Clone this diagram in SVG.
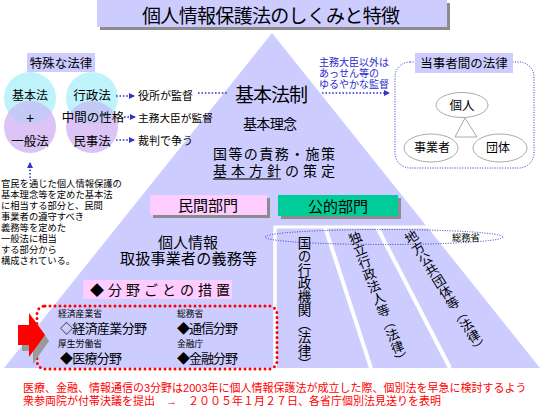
<svg xmlns="http://www.w3.org/2000/svg" width="544" height="406" viewBox="0 0 544 406">
<defs>
<style>
text{font-family:"Liberation Sans","Noto Sans CJK JP",sans-serif;fill:#000}
.c{text-anchor:middle}
.lav{fill:#ccccff}
.pink{fill:#ffccff}
.sh{fill:#8c8c8c}
.bd{fill:none;stroke:#3333cc;stroke-width:1.6;stroke-dasharray:1.6 1.8}
.bdt{fill:none;stroke:#3333cc;stroke-width:1;stroke-dasharray:1 1.5}
.red{fill:none;stroke:#ff0000;stroke-width:3;stroke-linecap:round;stroke-dasharray:0 5}
.wl{stroke:#fff;fill:none}
.bt{fill:#2a2acc}
.v{writing-mode:vertical-rl}
.rt{fill:#ff0000}
.el{fill:#fff;stroke:#aaa;stroke-width:1}
</style>
<marker id="ah" viewBox="0 0 6 6" refX="5" refY="3" markerWidth="6" markerHeight="6" orient="auto" markerUnits="userSpaceOnUse"><path d="M0,0 L6,3 L0,6 z" fill="#3333cc"/></marker>
<clipPath id="cl1"><circle cx="30" cy="98" r="26"/></clipPath>
<clipPath id="cl2"><circle cx="92" cy="98" r="26"/></clipPath>
</defs>

<g id="pyramid">
<polygon points="272,33 540,368 4,368" fill="#ccccff"/>
<path class="wl" stroke-width="3" d="M274,227 H428"/>
<path class="wl" stroke-width="3.5" d="M275,226 V368"/>
<path class="wl" stroke-width="4" d="M325,227 L371,368"/>
<path class="wl" stroke-width="4" d="M377,227 L450,368"/>
</g>

<g id="title">
<rect x="100" y="3" width="350" height="27" class="sh"/>
<rect x="97" y="0" width="350" height="27" class="lav"/>
<text x="142" y="23" font-size="19" textLength="258">個人情報保護法のしくみと特徴</text>
</g>

<g id="special-law">
<rect x="27" y="53" width="68" height="19" class="lav"/>
<text x="61" y="67.5" class="c" font-size="12.5">特殊な法律</text>
</g>

<g id="circles-left">
<circle cx="30" cy="98" r="26" fill="#bff3fb"/>
<circle cx="30" cy="127" r="26" fill="#dcc4f6"/>
<circle cx="30" cy="127" r="26" fill="#c4c9f8" clip-path="url(#cl1)"/>
<text x="30" y="99.5" class="c" font-size="12">基本法</text>
<text x="30" y="123" class="c" font-size="14">+</text>
<text x="30" y="145.5" class="c" font-size="12.5">一般法</text>
</g>

<g id="circles-right">
<circle cx="92" cy="98" r="26" fill="#bff3fb"/>
<circle cx="92" cy="127" r="26" fill="#dcc4f6"/>
<circle cx="92" cy="127" r="26" fill="#c4c9f8" clip-path="url(#cl2)"/>
<text x="92" y="99.5" class="c" font-size="12.5">行政法</text>
<text x="93" y="122" class="c" font-size="12.5">中間の性格</text>
<text x="92" y="145.5" class="c" font-size="12.5">民事法</text>
</g>

<g id="supervision-labels">
<text x="138" y="100" font-size="11">役所が監督</text>
<text x="138" y="121.5" font-size="10.7">主務大臣が監督</text>
<text x="138" y="144.5" font-size="11">裁判で争う</text>
</g>

<g id="basic-law">
<text x="235" y="102" font-size="19" textLength="73">基本法制</text>
<text x="243" y="129" font-size="14" textLength="54">基本理念</text>
<text x="213" y="159" font-size="14" textLength="122">国等の責務・施策</text>
<text x="213" y="176" font-size="14" textLength="122">基本方針の策定</text>
<path d="M213,179 H281" stroke="#000" stroke-width="1"/>
</g>

<g id="loose-supervision">
<text x="319" y="66" font-size="10" class="bt">主務大臣以外は</text>
<text x="319" y="77" font-size="10" class="bt">あっせん等の</text>
<text x="319" y="88" font-size="10" class="bt">ゆるやかな監督</text>
</g>

<g id="parties-law">
<rect x="395" y="62" width="139" height="106" rx="15" class="bdt"/>
<rect x="415" y="53" width="98" height="20" class="lav"/>
<text x="464" y="68" class="c" font-size="12.5">当事者間の法律</text>
<path d="M465,118 L455,137 H477 Z" fill="none" stroke="#aaa" stroke-width="1"/>
</g>
<g id="node-kojin">
<ellipse cx="462" cy="105" rx="26" ry="12.5" class="el"/>
<text x="462" y="109.5" class="c" font-size="12.5">個人</text>
</g>
<g id="node-jigyosha">
<ellipse cx="431" cy="148" rx="27" ry="14" class="el"/>
<text x="432" y="152" class="c" font-size="12">事業者</text>
</g>
<g id="node-dantai">
<ellipse cx="500" cy="148" rx="27" ry="14" class="el"/>
<text x="498" y="152" class="c" font-size="12">団体</text>
</g>

<g id="note-left">
<text x="1" y="187" font-size="9.3">官民を通じた個人情報保護の</text>
<text x="1" y="198" font-size="9.3">基本理念等を定めた基本法</text>
<text x="1" y="209" font-size="9.3">に相当する部分と、民間</text>
<text x="1" y="220" font-size="9.3">事業者の遵守すべき</text>
<text x="1" y="231" font-size="9.3">義務等を定めた</text>
<text x="1" y="242" font-size="9.3">一般法に相当</text>
<text x="1" y="253" font-size="9.3">する部分から</text>
<text x="1" y="264" font-size="9.3">構成されている。</text>
</g>

<g id="private-sector">
<rect x="153" y="198" width="117" height="20" class="sh"/>
<rect x="150" y="195" width="117" height="20" class="pink"/>
<text x="208" y="210.5" class="c" font-size="15">民間部門</text>
<text x="188" y="248" class="c" font-size="15">個人情報</text>
<text x="188.5" y="264" class="c" font-size="15" textLength="137">取扱事業者の義務等</text>
</g>

<g id="public-sector">
<rect x="281" y="198" width="120" height="21" class="sh"/>
<rect x="278" y="195" width="120" height="21" fill="#00cc99"/>
<text x="338" y="212" class="c" font-size="15">公的部門</text>
<ellipse cx="384" cy="237" rx="119" ry="7.5" class="bdt"/>
<text x="452" y="241" font-size="9.3">総務省</text>
<text x="303" y="236" class="v" font-size="13.5">国の行政機関（法律）</text>
<text transform="translate(352,232) rotate(-21)" class="v" font-size="13">独立行政法人等（法律）</text>
<text transform="translate(407,232) rotate(-32)" class="v" font-size="13">地方公共団体等（法律）</text>
</g>

<g id="sector-measures">
<rect x="83" y="280" width="149" height="19" class="pink"/>
<text x="90" y="295" font-size="14" textLength="140">◆分野ごとの措置</text>
<rect x="37" y="306" width="240" height="63" rx="8" class="red"/>
<text x="58" y="317" font-size="8.8">経済産業省</text>
<text x="60" y="333" font-size="13" textLength="87">◇経済産業分野</text>
<text x="58" y="347" font-size="8.8">厚生労働省</text>
<text x="60" y="363" font-size="13" textLength="62">◆医療分野</text>
<text x="177" y="317" font-size="8.8">総務省</text>
<text x="177" y="333" font-size="13" textLength="61">◆通信分野</text>
<text x="177" y="347" font-size="8.8">金融庁</text>
<text x="177" y="363" font-size="13" textLength="61">◆金融分野</text>
</g>

<g id="red-arrow">
<polygon points="22,331 33,331 33,318 49,341 33,364 33,351 22,351" fill="#9a9a9a"/>
<polygon points="18,325 29,325 29,313 45,335 29,357 29,345 18,345" fill="#ff0000"/>
</g>

<g id="connectors">
<path class="bd" d="M116,96 H134" marker-end="url(#ah)"/>
<path class="bd" d="M124,117 H135" marker-end="url(#ah)"/>
<path class="bd" d="M116,140 H134" marker-end="url(#ah)"/>
<path class="bd" d="M198,93 H228"/>
<path class="bd" d="M322,93 H389" marker-end="url(#ah)"/>
<path class="bd" d="M30,178 V163" marker-end="url(#ah)"/>
</g>

<g id="footnote">
<text x="23" y="392" font-size="11" class="rt">医療、金融、情報通信の3分野は2003年に個人情報保護法が成立した際、個別法を早急に検討するよう</text>
<text x="23" y="405" font-size="11" class="rt">衆参両院が付帯決議を提出　→　２００５年１月２７日、各省庁個別法見送りを表明</text>
</g>
</svg>
